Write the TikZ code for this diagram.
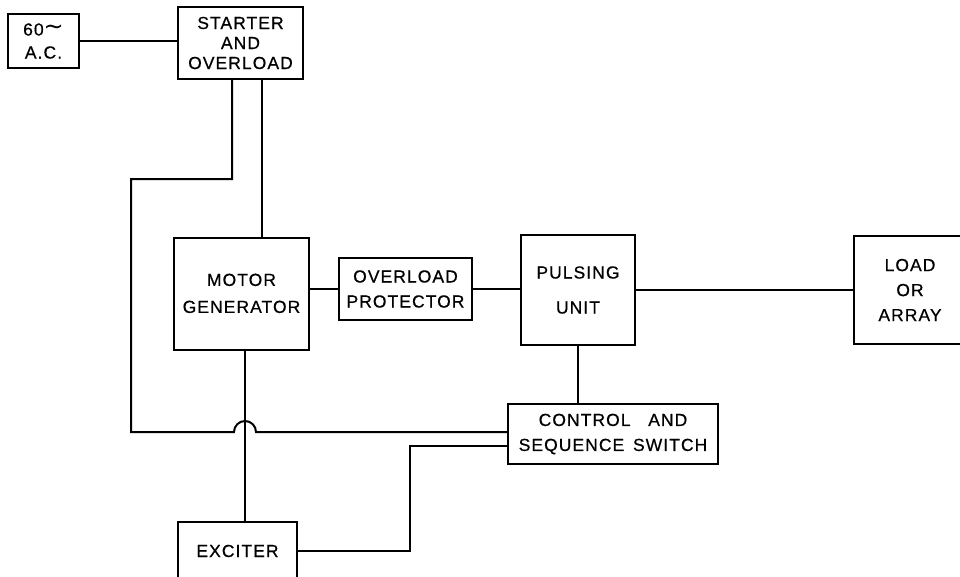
\documentclass[tikz,border=0pt]{standalone}
\usepackage{fontspec}
\newfontfamily\lettering{Liberation Sans}[LetterSpace=6,FakeBold=0.6]
\newfontfamily\symfont{DejaVu Sans}
\begin{document}
\begin{tikzpicture}[x=1pt,y=-1pt,line width=2pt,
  box/.style={draw, rectangle, inner sep=0pt, align=center},
  lt/.style={font=\lettering\fontsize{17.5}{#1}\selectfont},
  wire/.style={line join=miter}]
\useasboundingbox (0,0) rectangle (960,576);
\node[box, lt=23, minimum width=71pt, minimum height=54pt] (ac) at (43.5,41) {60{\symfont\fontsize{24}{23}\selectfont\raisebox{1pt}{\char"223C}}\\A.C.};
\node[box, lt=20, minimum width=125pt, minimum height=72pt] (starter) at (240.5,43) {STARTER\\AND\\OVERLOAD};
\node[box, lt=27, minimum width=135pt, minimum height=112pt] (motor) at (241.5,294) {\raisebox{6pt}{\begin{tabular}{@{}c@{}}MOTOR\\GENERATOR\end{tabular}}};
\node[box, lt=25, minimum width=133pt, minimum height=62pt] (prot) at (405.5,289) {OVERLOAD\\PROTECTOR};
\node[box, lt=35, minimum width=114pt, minimum height=110pt] (pulse) at (578,290) {PULSING\\UNIT};
\node[box, lt=25, minimum width=112pt, minimum height=108pt] (load) at (910,290) {LOAD\\OR\\ARRAY};
\node[box, lt=25, minimum width=210pt, minimum height=60pt] (ctrl) at (613,434) {CONTROL\ \ \ AND\\SEQUENCE\hspace{0.5em}SWITCH};
\node[box, lt=25, minimum width=119pt, minimum height=58pt] (exc) at (237.5,551) {EXCITER};
% named connection points
\coordinate (sA) at ([xshift=-8.5pt]starter.south);
\coordinate (sB) at ([xshift=21.5pt]starter.south);
\coordinate (mB) at ([xshift=3.5pt]motor.south);
\coordinate (cA) at ([yshift=2pt]ctrl.west);
\coordinate (cB) at ([yshift=-12pt]ctrl.west);
\coordinate (k1) at (232,179);
\coordinate (k2) at (131,179);
\coordinate (k3) at (131,432);
\coordinate (h1) at (234,432);
\coordinate (e1) at (410,551);
\coordinate (e2) at (410,446);
% connectors
\draw[wire] (ac.east) -- (ac.east -| starter.west);
\draw[wire] (sB) -- (sB |- motor.north);
\draw[wire] (sA) -- (k1) -- (k2) -- (k3) -- (h1) arc[start angle=180,end angle=0,radius=11pt] -- (cA);
\draw[wire] (mB) -- (mB |- exc.north);
\draw[wire] (prot.west) -- (prot.west -| motor.east);
\draw[wire] (prot.east) -- (prot.east -| pulse.west);
\draw[wire] (pulse.east) -- (pulse.east -| load.west);
\draw[wire] (pulse.south) -- (pulse.south |- ctrl.north);
\draw[wire] (exc.east) -- (e1) -- (e2) -- (cB);
\end{tikzpicture}
\end{document}
